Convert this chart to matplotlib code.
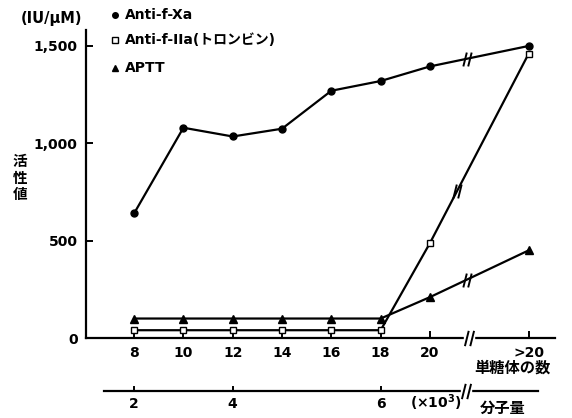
import matplotlib
matplotlib.use("Agg")
import matplotlib.pyplot as plt
from matplotlib.path import Path

plt.rcParams['font.family'] = ['DejaVu Sans', 'Noto Sans CJK JP']
plt.rcParams['font.weight'] = 'bold'

# data
x_labels = ['8', '10', '12', '14', '16', '18', '20', '>20']
x_pos = [8, 10, 12, 14, 16, 18, 20, 24]
xa_values = [640, 1080, 1035, 1075, 1270, 1320, 1395, 1500]
iia_values = [40, 40, 40, 40, 40, 40, 488, 1460]
aptt_values = [100, 100, 100, 100, 100, 100, 210, 450]
y_ticks = [0, 500, 1000, 1500]
y_ticklabels = ['0', '500', '1,000', '1,500']
mw_ticks_pos = [8, 12, 18]
mw_labels = ['2', '4', '6']

fig = plt.figure(figsize=(5.72, 4.18), dpi=100)
ax = fig.add_axes([86/572, (418-338)/418, (555-86)/572, (338-30)/418])
ax.set_xlim(6.05, 25.07)
ax.set_ylim(0, 1582)

lw = 1.6
ax.plot(x_pos, xa_values, color='black', lw=lw, marker='o', ms=5, zorder=3)
ax.plot(x_pos, iia_values, color='black', lw=lw, marker='s', ms=4.5, mfc='white', mew=1.0, zorder=3)
ax.plot(x_pos, aptt_values, color='black', lw=lw, marker='^', ms=6, zorder=3)

for s in ['top', 'right']:
    ax.spines[s].set_visible(False)
ax.spines['left'].set_linewidth(1.6)
ax.spines['bottom'].set_linewidth(1.6)

ax.set_xticks(x_pos)
ax.set_xticklabels(x_labels, fontsize=10, fontweight='bold')
ax.set_yticks(y_ticks)
ax.set_yticklabels(y_ticklabels, fontsize=10, fontweight='bold')
ax.tick_params(direction='in', length=5, width=1.4, pad=6)

# break marks
brk = Path([(-0.6, -1.0), (-0.1, 1.0), (0.1, -1.0), (0.6, 1.0)],
           [Path.MOVETO, Path.LINETO, Path.MOVETO, Path.LINETO])

def interp(xs, ys, xv):
    for i in range(len(xs) - 1):
        if xs[i] <= xv <= xs[i+1]:
            t = (xv - xs[i]) / (xs[i+1] - xs[i])
            return ys[i] + t * (ys[i+1] - ys[i])
    return ys[-1]

for xs_, ys_, xb in [(x_pos, xa_values, 21.5), (x_pos, iia_values, 21.1), (x_pos, aptt_values, 21.5)]:
    yb = interp(xs_, ys_, xb)
    ax.plot([xb], [yb], marker=brk, ms=10, color='black', mew=1.4, zorder=4, clip_on=False)
# axis break
ax.plot([21.6], [0], marker='s', ms=7, color='white', mec='white', zorder=4, clip_on=False)
ax.plot([21.6], [0], marker=brk, ms=11, color='black', mew=1.4, zorder=5, clip_on=False)

# second axis (molecular weight)
y2 = -272
ax.plot([6.8, 24.4], [y2, y2], color='black', lw=1.6, clip_on=False)
for p, lab in zip(mw_ticks_pos, mw_labels):
    ax.plot([p, p], [y2, y2 + 22], color='black', lw=1.4, clip_on=False)
    ax.text(p, y2 - 30, lab, ha='center', va='top', fontsize=10, fontweight='bold')
ax.plot([21.45], [y2], marker='s', ms=7, color='white', mec='white', zorder=4, clip_on=False)
ax.plot([21.45], [y2], marker=brk, ms=11, color='black', mew=1.4, zorder=5, clip_on=False)

# text labels
fig.text(410/572, 1 - 403/418, '(×10$^{3}$)', fontsize=10, fontweight='bold', ha='left', va='center')
fig.text(480/572, 1 - 408/418, '分子量', fontsize=11, fontweight='bold', ha='left', va='center')
fig.text(474/572, 1 - 368/418, '単糖体の数', fontsize=11, fontweight='bold', ha='left', va='center')
fig.text(82/572, 1 - 18/418, '(IU/μM)', fontsize=10.5, fontweight='bold', ha='right', va='center')
fig.text(20/572, 1 - 178/418, '活\n性\n値', fontsize=10.5, fontweight='bold', ha='center', va='center', linespacing=1.1)

# legend
leg = [('o', 'black', 'Anti-f-Xa', 15),
       ('s', 'white', 'Anti-f-IIa(トロンビン)', 40),
       ('^', 'black', 'APTT', 68)]
for m, fc, lab, yp in leg:
    fig.lines.append(plt.Line2D([115/572], [1 - yp/418], marker=m, ms=4 if m != '^' else 5,
                                mfc=fc, mec='black', color='black', transform=fig.transFigure))
    fig.text(125/572, 1 - yp/418, lab, fontsize=10, fontweight='bold', ha='left', va='center')

fig.savefig('out.png', dpi=100)
